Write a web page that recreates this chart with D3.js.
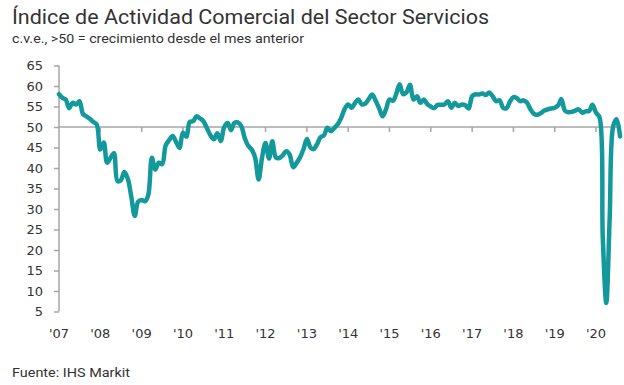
<!DOCTYPE html>
<html>
<head>
<meta charset="utf-8">
<script src="https://cdn.jsdelivr.net/npm/d3@7"></script>
<style>
  body { margin: 0; background: #fff; }
  svg { display: block; }
</style>
</head>
<body>
<svg id="chart" width="624" height="385"></svg>
<script>
// monthly index values, Jan 2007 .. Aug 2020
const startYear = 2007;
const values = [
  // 2007
  58.0, 57.1, 56.7, 54.6, 55.9, 55.5, 56.3, 53.2, 52.6, 52.0, 51.2, 50.6,
  // 2008
  44.5, 46.2, 41.3, 42.5, 43.6, 36.8, 37.0, 39.0, 37.3, 33.0, 28.3, 31.8,
  // 2009
  32.2, 31.9, 33.5, 42.5, 39.6, 41.3, 40.9, 45.5, 46.8, 47.8, 46.4, 44.9,
  // 2010
  48.6, 47.6, 51.2, 51.4, 52.6, 52.1, 51.4, 49.7, 48.0, 47.0, 48.5, 46.6,
  // 2011
  50.0, 51.0, 49.2, 51.0, 51.1, 50.2, 47.3, 45.4, 44.5, 42.5, 37.2, 42.5,
  // 2012
  46.1, 42.3, 46.5, 42.6, 42.4, 43.1, 44.1, 43.3, 40.2, 41.2, 42.6, 44.5,
  // 2013
  47.1, 45.0, 44.6, 45.8, 47.5, 48.0, 49.8, 49.0, 49.8, 50.7, 52.3, 54.4,
  // 2014
  55.5, 54.7, 55.8, 56.7, 55.5, 55.7, 56.8, 57.9, 56.4, 54.6, 52.6, 54.3,
  // 2015
  56.7, 56.4, 58.0, 60.4, 58.0, 58.5, 60.3, 56.7, 57.5, 55.9, 56.7, 55.6,
  // 2016
  55.0, 54.6, 55.4, 55.4, 55.5, 56.3, 54.7, 55.9, 55.1, 55.5, 55.3, 54.5,
  // 2017
  57.5, 58.0, 57.9, 58.2, 57.8, 58.4, 57.5, 56.3, 56.5, 54.7, 54.6, 56.2,
  // 2018
  57.3, 57.0, 56.3, 56.5, 55.9, 54.3, 53.2, 53.0, 53.4, 54.0, 54.3, 54.5,
  // 2019
  54.7, 55.3, 56.8, 54.0, 53.6, 53.7, 54.0, 54.3, 53.5, 53.8, 53.9, 55.4,
  // 2020
  53.5, 52.4, 23.0, 7.1, 27.9, 50.2, 51.9, 47.7
];
const yearLabels = ["'07", "'08", "'09", "'10", "'11", "'12", "'13", "'14", "'15", "'16", "'17", "'18", "'19", "'20"];
const yTicks = [5, 10, 15, 20, 25, 30, 35, 40, 45, 50, 55, 60, 65];

const data = values.map((v, i) => ({ date: new Date(startYear, i, 1), value: v }));

const svg = d3.select("#chart");
const textColor = "#333";
const axisColor = "#a6a6a6";
const lineColor = "#13999b";

const x = d3
  .scaleTime()
  .domain([new Date(2007, 0, 1), new Date(2020, 0, 1)])
  .range([59, 596]);

const y = d3.scaleLinear().domain([5, 65]).range([311.5, 65.5]);

// titles
const fitText = (sel, w) => {
  const len = sel.node().getComputedTextLength();
  if (Math.abs(len - w) > 1) sel.attr("textLength", w).attr("lengthAdjust", "spacingAndGlyphs");
};

const title = svg
  .append("text")
  .attr("x", 12)
  .attr("y", 24)
  .attr("fill", textColor)
  .style("font-family", "Roboto, sans-serif")
  .style("font-size", "21px")
  .text("Índice de Actividad Comercial del Sector Servicios");
fitText(title, 477);

const subtitle = svg
  .append("text")
  .attr("x", 12)
  .attr("y", 43)
  .attr("fill", textColor)
  .style("font-family", "Roboto, sans-serif")
  .style("font-size", "13px")
  .text("c.v.e., >50 = crecimiento desde el mes anterior");
fitText(subtitle, 292);

const source = svg
  .append("text")
  .attr("x", 12)
  .attr("y", 377)
  .attr("fill", textColor)
  .style("font-family", "Roboto, sans-serif")
  .style("font-size", "13px")
  .text("Fuente: IHS Markit");
fitText(source, 118);

// y axis
const yAxis = (g) =>
  g
    .attr("transform", `translate(${x.range()[0]},0)`)
    .call(d3.axisLeft(y).tickValues(yTicks).tickSize(5).tickPadding(11))
    .call((g) => g.select(".domain").attr("stroke", axisColor).attr("stroke-width", 1.5).attr("d", `M0,${y(65)}V${y(5)}`))
    .call((g) => g.selectAll(".tick line").attr("stroke", axisColor).attr("stroke-width", 1.5))
    .call((g) =>
      g
        .selectAll(".tick text")
        .attr("fill", textColor)
        .style("font-family", "'DejaVu Sans', sans-serif")
        .style("font-size", "13px")
    );

svg.append("g").call(yAxis);

// x axis sits on the 50 line, labels at the bottom
const years = d3.range(2007, 2021).map((yr) => new Date(yr, 0, 1));

svg
  .append("line")
  .attr("x1", x.range()[0])
  .attr("x2", 621)
  .attr("y1", y(50))
  .attr("y2", y(50))
  .attr("stroke", axisColor)
  .attr("stroke-width", 1.5);

svg
  .append("g")
  .selectAll("line")
  .data(years.slice(1))
  .join("line")
  .attr("x1", (d) => x(d))
  .attr("x2", (d) => x(d))
  .attr("y1", y(50))
  .attr("y2", y(50) + 5)
  .attr("stroke", axisColor)
  .attr("stroke-width", 1.5);

svg
  .append("g")
  .selectAll("text")
  .data(years)
  .join("text")
  .attr("x", (d) => x(d))
  .attr("y", 338)
  .attr("text-anchor", "middle")
  .attr("fill", textColor)
  .style("font-family", "'DejaVu Sans', sans-serif")
  .style("font-size", "13px")
  .text((d, i) => yearLabels[i]);

// series
const line = d3
  .line()
  .x((d) => x(d.date))
  .y((d) => y(d.value))
  .curve(d3.curveCatmullRom);

svg
  .append("path")
  .datum(data)
  .attr("fill", "none")
  .attr("stroke", lineColor)
  .attr("stroke-width", 4.5)
  .attr("stroke-linejoin", "round")
  .attr("stroke-linecap", "round")
  .attr("d", line);
</script>
</body>
</html>
